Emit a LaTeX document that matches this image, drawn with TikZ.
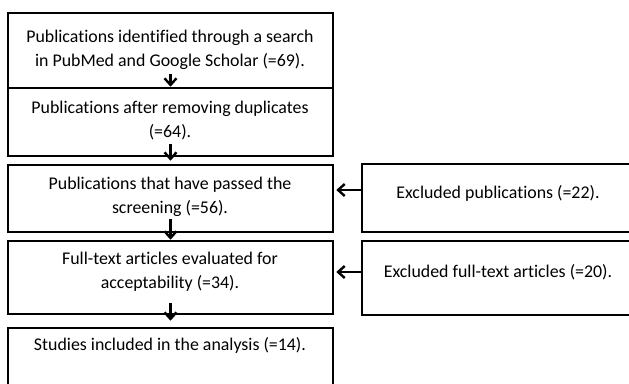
\documentclass[tikz,border=0pt]{standalone}
\usepackage{fontspec}
\setmainfont{Carlito}[Ligatures={NoCommon,NoContextual},Contextuals=NoAlternate]
\usepackage{xcolor}
\usetikzlibrary{positioning, arrows.meta, calc}

\begin{document}
\begin{tikzpicture}[
  x=0.75pt, y=-0.75pt,
  >={Straight Barb[length=5pt,width=9pt]},
  every node/.style={font=\fontsize{13.4}{18}\selectfont},
  stage/.style={draw, line width=1.9pt, minimum width=243.75pt, inner sep=0pt},
  side/.style={draw, line width=1.9pt, minimum width=204pt, inner sep=0pt},
  lbl/.style={align=center, inner sep=0pt},
  arr/.style={->, line width=1.8pt}
]
\useasboundingbox (0,0) rectangle (629,383);
\clip (0,0) rectangle (629,383);
\fill[white] (0,0) rectangle (629,383);

% Left column: the selection stages
\node[stage, minimum height=56.25pt] (search) at (170.5, 50.5) {};
\node[lbl] at (170, 49.5) {Publications identified through a search\\in PubMed and Google Scholar (=69).};
\node[stage, minimum height=51pt] (dupl) at (170.5, 122) {};
\node[lbl] at (170, 120.5) {Publications after removing duplicates\\(=64).};
\node[stage, minimum height=50.25pt] (screen) at (170.5, 198.5) {};
\node[lbl] at (170, 197) {Publications that have passed the\\screening (=56).};
\node[stage, minimum height=54.75pt] (full) at (170.5, 277.5) {};
\node[lbl] at (170, 271.5) {Full-text articles evaluated for\\acceptability (=34).};
\node[stage, minimum height=54pt] (incl) at (170.5, 364) {};
\node[lbl] at (170, 345) {Studies included in the analysis (=14).};

% Right column: exclusions
\node[side, minimum height=51pt] (exscreen) at (498, 198) {};
\node[lbl] at (498, 193) {Excluded publications (=22).};
\node[side, minimum height=55.5pt] (exfull) at (498, 278) {};
\node[lbl] at (498, 272) {Excluded full-text articles (=20).};

% Flow downwards
\draw[arr] ([yshift=11.25pt]search.south) -- (dupl.north);
\draw[arr] ([yshift=9.75pt]dupl.south) -- ([yshift=2.25pt]screen.north);
\draw[arr] ([yshift=10.5pt]screen.south) -- (full.north);
\draw[arr] ([yshift=9pt]full.south) -- ([yshift=4.5pt]incl.north);
% Exclusions pointing back
\draw[arr] ([yshift=6pt]exscreen.west) -- ([xshift=1.5pt,yshift=6pt]exscreen.west -| screen.east);
\draw[arr] ([yshift=4.5pt]exfull.west) -- ([xshift=1.5pt,yshift=4.5pt]exfull.west -| full.east);

\end{tikzpicture}
\end{document}
